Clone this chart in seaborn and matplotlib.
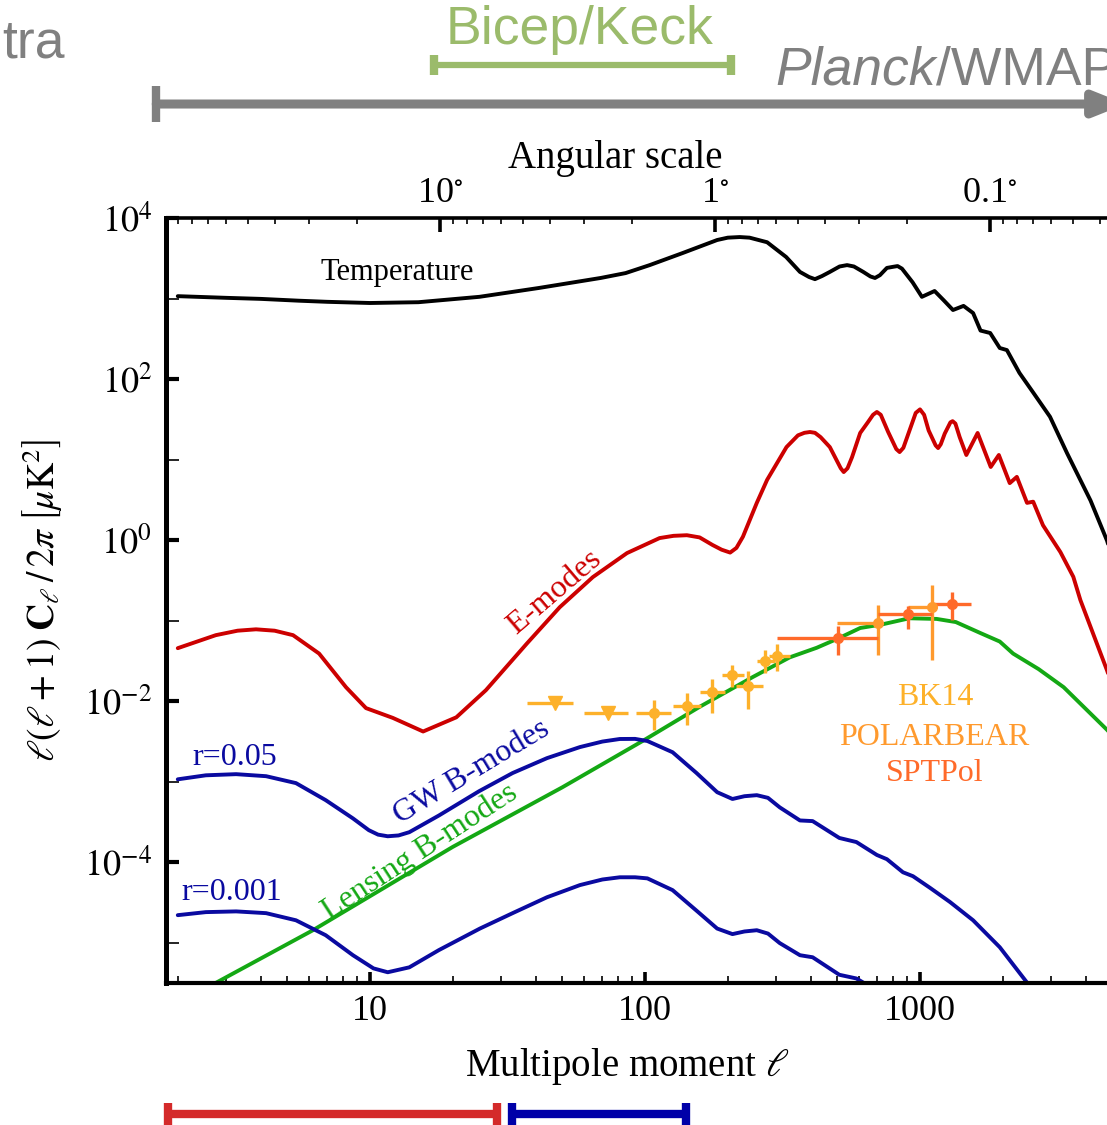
import matplotlib
matplotlib.use('Agg')
import matplotlib.pyplot as plt
import matplotlib.ticker as mticker
import seaborn as sns
import numpy as np

sns.set_theme(style='ticks')
plt.rcParams['font.family'] = ['Liberation Serif', 'DejaVu Serif']
plt.rcParams['mathtext.fontset'] = 'stix'
plt.rcParams['text.color'] = 'black'
plt.rcParams['axes.labelcolor'] = 'black'
plt.rcParams['lines.solid_joinstyle'] = 'round'

# temperature spectrum, l(l+1)C_l/2pi in uK^2
T_ell = [2, 3, 4, 5.5, 7, 10, 15, 25, 41, 69, 85, 104, 137, 183, 200, 221, 240, 278, 326, 366,
         395, 415, 440, 470, 510, 543, 575, 622, 660, 686, 715, 758, 800, 829, 860, 940, 1016,
         1130, 1220, 1318, 1440, 1560, 1660, 1800, 1950, 2070, 2300, 2580, 2970, 3426, 4170,
         4790, 5500]
T_val = [1070, 1020, 990, 940, 910, 880, 900, 1050, 1350, 1800, 2070, 2600, 3670, 5330, 5700,
         5800, 5700, 5000, 3280, 2140, 1850, 1740, 1900, 2140, 2500, 2600, 2500, 2140, 1880,
         1800, 1950, 2400, 2480, 2530, 2350, 1590, 1050, 1240, 950, 720, 810, 660, 400, 373,
         243, 229, 119, 68, 34, 12, 3.1, 0.98, 0.2]

# E-modes
E_ell = [2, 2.75, 3.3, 3.85, 4.5, 5.25, 6.53, 8.18, 9.67, 12.1, 15.6, 20.6, 26.4, 37.2, 49,
         64.6, 86, 113, 127, 142, 158, 176, 190, 204, 215, 227, 255, 278, 327, 360, 380, 398,
         415, 435, 470, 515, 528, 545, 566, 606, 646, 675, 697, 720, 766, 820, 843, 870, 916,
         965, 1000, 1035, 1075, 1140, 1164, 1190, 1230, 1290, 1314, 1345, 1394, 1474, 1620,
         1808, 1935, 2120, 2250, 2450, 2580, 2800, 3240, 3610, 3830, 4790, 5500]
E_val = [0.0455, 0.066, 0.075, 0.078, 0.075, 0.066, 0.039, 0.0149, 0.0082, 0.0062, 0.0042,
         0.0063, 0.0137, 0.052, 0.147, 0.347, 0.69, 1.06, 1.13, 1.15, 1.08, 0.87, 0.76, 0.70,
         0.8, 1.1, 2.9, 5.6, 14.3, 20, 21.5, 22, 21.5, 19, 14.3, 7.8, 7.0, 7.8, 10.7, 21.4, 29,
         36, 39, 36, 22, 13.5, 12.4, 14, 23, 38, 42, 36, 23, 15, 13.9, 15.5, 21, 29, 30, 28,
         19, 11.4, 21.4, 8.1, 11.4, 5.1, 6.1, 2.9, 3.0, 1.53, 0.71, 0.35, 0.18, 0.024, 0.006]

# GW B-modes, r=0.05 and r=0.001
GW1_ell = [2, 2.53, 3.26, 4.19, 5.38, 6.9, 8.67, 9.9, 10.7, 11.6, 12.7, 13.9, 17.8, 24.9, 33,
           44, 58, 70, 81, 92, 102, 126, 154, 183, 208, 230, 255, 280, 309, 366, 407, 509, 587,
           697, 758, 867, 943, 1088, 1286, 1560, 1950, 2450, 2700]
GW1_val = [1.07e-3, 1.2e-3, 1.24e-3, 1.17e-3, 9.6e-4, 5.9e-4, 3.5e-4, 2.5e-4, 2.2e-4, 2.1e-4,
           2.15e-4, 2.36e-4, 3.8e-4, 7.6e-4, 1.28e-3, 1.96e-3, 2.69e-3, 3.15e-3, 3.39e-3,
           3.4e-3, 3.2e-3, 2.32e-3, 1.28e-3, 7.4e-4, 6.1e-4, 6.6e-4, 6.8e-4, 6.3e-4, 4.8e-4,
           3.3e-4, 3.24e-4, 2.0e-4, 1.78e-4, 1.23e-4, 1.09e-4, 7.5e-5, 6.7e-5, 4.8e-5, 3.2e-5,
           1.9e-5, 8.8e-6, 3.2e-6, 2e-6]
GW2_ell = [2, 2.53, 3.26, 4.19, 5.38, 6.9, 8.67, 10.3, 11.6, 13.9, 17.8, 25.1, 33, 44, 58, 70,
           81, 92, 102, 126, 154, 183, 208, 230, 255, 280, 309, 366, 407, 509, 587, 622, 700]
GW2_val = [2.2e-5, 2.4e-5, 2.45e-5, 2.33e-5, 1.9e-5, 1.24e-5, 7e-6, 4.8e-6, 4.3e-6, 4.95e-6,
           8.1e-6, 1.5e-5, 2.33e-5, 3.67e-5, 5.2e-5, 6.1e-5, 6.5e-5, 6.5e-5, 6.3e-5, 4.5e-5,
           2.5e-5, 1.5e-5, 1.28e-5, 1.38e-5, 1.43e-5, 1.3e-5, 9.9e-6, 7e-6, 6.6e-6, 4e-6,
           3.6e-6, 3.2e-6, 2.2e-6]

# lensing B-modes
L_ell = [2, 6.2, 20, 50, 98, 158, 247, 336, 421, 509, 606, 730, 915, 1150, 1350, 1660, 1950,
         2180, 2700, 3330, 4790, 5500]
L_val = [1.76e-6, 1.43e-5, 1.55e-4, 8.5e-4, 3.2e-3, 8.5e-3, 0.02, 0.035, 0.046, 0.061, 0.081,
         0.09, 0.107, 0.105, 0.096, 0.070, 0.055, 0.039, 0.025, 0.0149, 0.0044, 0.0025]

# BK14 upper limits and band powers
bk_lim_ell = [47, 73.5]
bk_lim_val = [9.4e-3, 7.1e-3]
bk_lim_lo = [37.2, 60]
bk_lim_hi = [54.7, 87]
bk_ell = [108, 142, 175, 208, 236, 273, 303]
bk_val = [7.1e-3, 8.7e-3, 0.0129, 0.021, 0.0153, 0.0314, 0.036]
bk_xlo = [93, 126, 158, 190, 215, 255, 283]
bk_xhi = [124, 160, 195, 230, 268, 296, 336]
bk_ylo = [4.4e-3, 5.1e-3, 7.2e-3, 0.0149, 7.9e-3, 0.0224, 0.0234]
bk_yhi = [0.0102, 0.0126, 0.0186, 0.0282, 0.0234, 0.0427, 0.0513]

# POLARBEAR
pb_ell = [705, 1106]
pb_val = [0.094, 0.147]
pb_xlo = [500, 906]
pb_xhi = [715, 1110]
pb_ylo = [0.037, 0.032]
pb_yhi = [0.156, 0.276]

# SPTPol
sp_ell = [503, 904, 1306]
sp_val = [0.061, 0.12, 0.16]
sp_xlo = [302, 705, 1110]
sp_xhi = [705, 1110, 1530]
sp_ylo = [0.037, 0.078, 0.101]
sp_yhi = [0.085, 0.151, 0.226]

# multipole coverage of experiments
planck_range = [1.67, 5600]
bicep_range = [17.1, 205]
red_range = [1.85, 29]
blue_range = [32.8, 141]

C_T = 'black'
C_E = '#cc0000'
C_GW = '#0a0aa0'
C_L = '#14a814'
C_BK = '#fdb12a'
C_PB = '#ff9a2e'
C_SP = '#ff6a2a'
C_GRAY = '#808080'
C_BICEP = '#9bbb6b'

fig = plt.figure(figsize=(11.07, 11.25), dpi=100)
ax = fig.add_axes([166 / 1107, 142 / 1125, 957.6 / 1107, 765 / 1125])
ax.set_xscale('log')
ax.set_yscale('log')
ax.set_xlim(10 ** 0.2582, 5500)
ax.set_ylim(10 ** -5.5, 1e4)

lw = 2.8
sns.lineplot(x=T_ell, y=T_val, ax=ax, color=C_T, linewidth=lw)
sns.lineplot(x=E_ell, y=E_val, ax=ax, color=C_E, linewidth=lw)
sns.lineplot(x=L_ell, y=L_val, ax=ax, color=C_L, linewidth=lw)
sns.lineplot(x=GW1_ell, y=GW1_val, ax=ax, color=C_GW, linewidth=lw)
sns.lineplot(x=GW2_ell, y=GW2_val, ax=ax, color=C_GW, linewidth=lw)


def band(ell, val, xlo, xhi, ylo=None, yhi=None, color='k', fmt='o', ms=7):
    ell = np.array(ell)
    val = np.array(val)
    xerr = [ell - np.array(xlo), np.array(xhi) - ell]
    yerr = None
    if ylo is not None:
        yerr = [val - np.array(ylo), np.array(yhi) - val]
    ax.errorbar(ell, val, xerr=xerr, yerr=yerr, fmt=fmt, ms=ms, color=color,
                elinewidth=2.4, capsize=0, zorder=5)


band(bk_lim_ell, bk_lim_val, bk_lim_lo, bk_lim_hi, color=C_BK, fmt='v', ms=10)
band(bk_ell, bk_val, bk_xlo, bk_xhi, bk_ylo, bk_yhi, color=C_BK)
band(pb_ell, pb_val, pb_xlo, pb_xhi, pb_ylo, pb_yhi, color=C_PB)
band(sp_ell, sp_val, sp_xlo, sp_xhi, sp_ylo, sp_yhi, color=C_SP)

# curve labels
fs = 23
ax.text(12.6, 2075, 'Temperature', fontsize=22, ha='center', va='center', color=C_T)
ax.text(47, 0.226, 'E-modes', fontsize=fs, ha='center', va='center', color=C_E, rotation=40.5)
ax.text(23.5, 1.31e-3, 'GW B-modes', fontsize=fs, ha='center', va='center', color=C_GW,
        rotation=31)
ax.text(15.2, 1.33e-4, 'Lensing B-modes', fontsize=fs, ha='center', va='center', color=C_L,
        rotation=33)
ax.text(3.23, 2.0e-3, 'r=0.05', fontsize=fs, ha='center', va='center', color=C_GW)
ax.text(3.15, 4.2e-5, 'r=0.001', fontsize=fs, ha='center', va='center', color=C_GW)
ax.text(1140, 0.0112, 'BK14', fontsize=fs, ha='center', va='center', color=C_BK)
ax.text(1130, 3.57e-3, 'POLARBEAR', fontsize=fs, ha='center', va='center', color=C_PB)
ax.text(1130, 1.28e-3, 'SPTPol', fontsize=fs, ha='center', va='center', color=C_SP)

# axes styling
for s in ['left', 'bottom', 'top', 'right']:
    ax.spines[s].set_color('black')
ax.spines['left'].set_linewidth(3.6)
ax.spines['bottom'].set_linewidth(3.0)
ax.spines['top'].set_linewidth(2.6)
ax.spines['right'].set_linewidth(3.0)

ax.set_xticks([10, 100, 1000])
ax.set_xticklabels(['10', '100', '1000'])
xminor = [m * 10 ** k for k in range(0, 4) for m in range(2, 10) if m * 10 ** k < 5500]
ax.set_xticks(xminor, minor=True)
ax.xaxis.set_minor_formatter(mticker.NullFormatter())
ax.set_yticks([10.0 ** k for k in (-4, -2, 0, 2, 4)])
ax.set_yticklabels([r'$10^{%d}$' % k for k in (-4, -2, 0, 2, 4)])
ax.set_yticks([10.0 ** k for k in (-5, -3, -1, 1, 3)], minor=True)
ax.yaxis.set_minor_formatter(mticker.NullFormatter())

ax.tick_params(axis='x', which='major', direction='in', length=8, width=2.6, labelsize=26,
               pad=9, top=False, bottom=True, colors='black')
ax.tick_params(axis='x', which='minor', direction='in', length=5, width=1.2, top=False,
               bottom=True, colors='black')
ax.tick_params(axis='y', which='major', direction='in', length=9, width=3, labelsize=26,
               pad=10, right=False, left=True, colors='black')
ax.tick_params(axis='y', which='minor', direction='in', length=9, width=1.2, right=False,
               left=True, colors='black')

ax.set_xlabel(r'Multipole moment $\ell$', fontsize=28)
ax.xaxis.set_label_coords(0.482, -0.083)
ax.set_ylabel(r'$\ell(\ell+1)\;\mathbf{C}_\ell\,/\,2\pi\;\left[\mu\mathrm{K}^2\right]$',
              fontsize=27, labelpad=14)

# angular scale on top
ax2 = ax.twiny()
ax2.set_xscale('log')
ax2.set_xlim(ax.get_xlim())
ang_major = [10, 1, 0.1]
ang_labels = [r'10$^{\circ}$', r'1$^{\circ}$', r'0.1$^{\circ}$']
ang_minor = [a * 10.0 ** k for k in (1, 0, -1, -2) for a in range(2, 10)]
ax2.set_xticks([180 / a for a in ang_major])
ax2.set_xticklabels(ang_labels)
ax2.set_xticks([180 / a for a in ang_minor if 1.81 < 180 / a < 5500], minor=True)
ax2.xaxis.set_minor_formatter(mticker.NullFormatter())
ax2.tick_params(axis='x', which='major', direction='in', length=10, width=2.6, labelsize=26,
                pad=6, colors='black')
ax2.tick_params(axis='x', which='minor', direction='in', length=4, width=1.2, colors='black')
ax2.set_xlabel('Angular scale', fontsize=28)
ax2.xaxis.set_label_coords(0.469, 1.066)
for s in ax2.spines.values():
    s.set_visible(False)

# experiment coverage bars (x in multipole, y in axes fraction)
trans = ax.get_xaxis_transform()
ax.annotate('', xy=(planck_range[1], 1.149), xytext=(planck_range[0], 1.149),
            xycoords=trans, textcoords=trans, annotation_clip=False,
            arrowprops=dict(arrowstyle='-|>,head_length=0.45,head_width=0.18', lw=6.5,
                            color=C_GRAY, mutation_scale=40, shrinkA=0, shrinkB=0))
ax.plot([planck_range[0]], [1.149], marker='|', ms=26, mew=6, color=C_GRAY,
        transform=trans, clip_on=False)


def range_bar(rng, y, color, lw_bar, ms):
    ax.plot(rng, [y, y], color=color, lw=lw_bar, transform=trans, clip_on=False,
            solid_capstyle='butt', marker='|', ms=ms, mew=6)


range_bar(bicep_range, 1.2, C_BICEP, 4.5, 14)
range_bar(red_range, -0.171, '#d42a2a', 6, 16)
range_bar(blue_range, -0.171, '#0000a8', 6, 16)

ax.text(58, 1.246, 'Bicep/Keck', transform=trans, fontsize=38.5, color=C_BICEP,
        ha='center', va='center', family='Liberation Sans')
pl = ax.text(297, 1.193, 'Planck', transform=trans, fontsize=38.5, color=C_GRAY,
             ha='left', va='center', family='Liberation Sans', style='italic')
ax.annotate('/WMAP', xy=(1, 0), xycoords=pl, fontsize=38.5, color=C_GRAY, ha='left',
            va='bottom', family='Liberation Sans')
ax.text(0.46, 1.228, 'tra', transform=trans, fontsize=38.5, color=C_GRAY,
        ha='left', va='center', family='Liberation Sans')

fig.savefig('out.png', dpi=100)
